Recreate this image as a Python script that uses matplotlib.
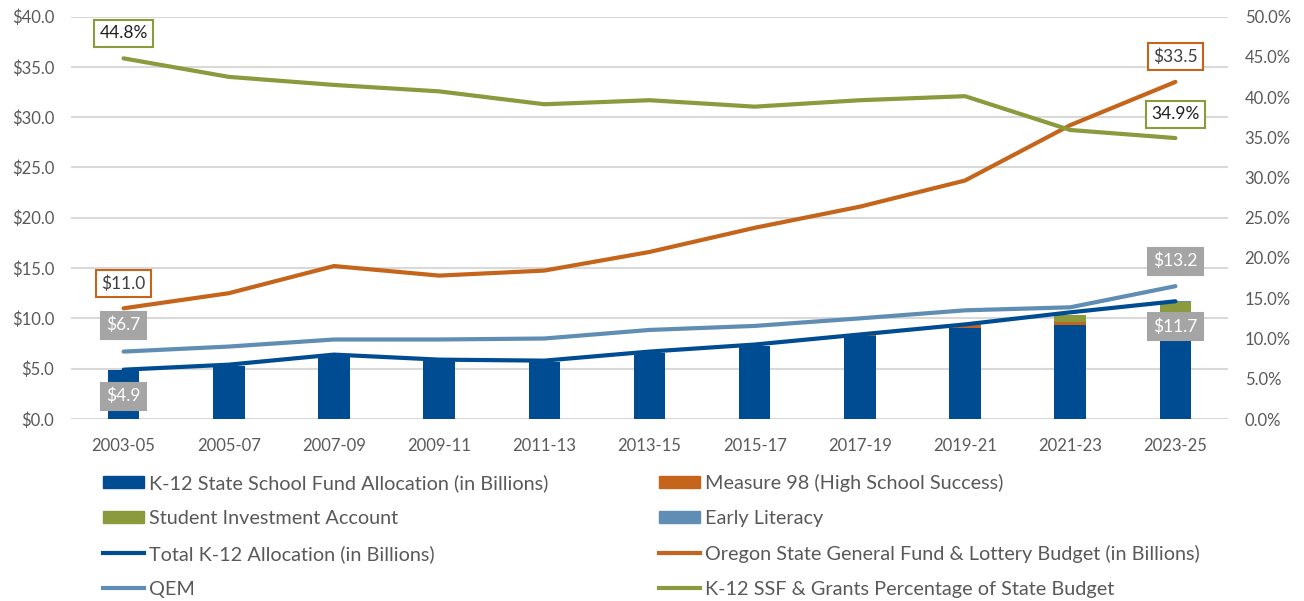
import matplotlib
matplotlib.use("Agg")
import matplotlib.pyplot as plt
import numpy as np
from matplotlib.patches import Patch
from matplotlib.lines import Line2D

periods = ["2003-05", "2005-07", "2007-09", "2009-11", "2011-13", "2013-15",
           "2015-17", "2017-19", "2019-21", "2021-23", "2023-25"]
ssf = [4.9, 5.3, 6.3, 5.8, 5.7, 6.6, 7.3, 8.2, 9.0, 9.3, 10.2]
measure98 = [0, 0, 0, 0, 0, 0, 0, 0.15, 0.3, 0.3, 0.3]
sia = [0, 0, 0, 0, 0, 0, 0, 0, 0.15, 0.7, 1.1]
early_lit = [0, 0, 0, 0, 0, 0, 0, 0, 0, 0, 0.1]
total_k12 = [4.9, 5.4, 6.4, 5.9, 5.8, 6.7, 7.4, 8.4, 9.4, 10.6, 11.7]
state_budget = [11.0, 12.5, 15.2, 14.25, 14.75, 16.6, 19.0, 21.1, 23.7, 29.2, 33.5]
qem = [6.7, 7.2, 7.9, 7.9, 8.0, 8.85, 9.25, 10.0, 10.8, 11.1, 13.2]
pct_budget = [44.8, 42.5, 41.5, 40.7, 39.1, 39.6, 38.8, 39.6, 40.1, 35.9, 34.9]

C_BLUE = "#004C93"
C_ORANGE = "#C5651B"
C_OLIVE = "#8A9A3D"
C_LBLUE = "#5F8DB4"
C_GRID = "#D9D9D9"
C_TXT = "#595959"

fig = plt.figure(figsize=(13.04, 6.01), dpi=100)
ax = fig.add_axes([71/1304, 1-419/601, (1228-71)/1304, (419-16.5)/601])
ax2 = ax.twinx()

x = np.arange(len(periods))
w = 0.30
b1 = np.array(ssf)
b2 = b1 + np.array(measure98)
b3 = b2 + np.array(sia)
ax.bar(x, ssf, w, color=C_BLUE, zorder=2)
ax.bar(x, measure98, w, bottom=b1, color=C_ORANGE, zorder=2)
ax.bar(x, sia, w, bottom=b2, color=C_OLIVE, zorder=2)
ax.bar(x, early_lit, w, bottom=b3, color=C_LBLUE, zorder=2)

ax.plot(x, total_k12, color=C_BLUE, lw=3.0, zorder=4, solid_capstyle="round")
ax.plot(x, state_budget, color=C_ORANGE, lw=3.0, zorder=4, solid_capstyle="round")
ax.plot(x, qem, color=C_LBLUE, lw=3.0, zorder=3, solid_capstyle="round")
ax2.plot(x, pct_budget, color=C_OLIVE, lw=3.0, zorder=4, solid_capstyle="round")

ax.set_xlim(-0.5, len(periods) - 0.5)
ax.set_ylim(0, 40)
ax2.set_ylim(0, 50)
ax.set_yticks(np.arange(0, 41, 5))
ax.set_yticklabels([f"${v:.1f}" for v in np.arange(0, 41, 5)])
ax2.set_yticks(np.arange(0, 51, 5))
ax2.set_yticklabels([f"{v:.1f}%" for v in np.arange(0, 51, 5)])
ax.set_xticks(x)
ax.set_xticklabels(periods)

for a in (ax, ax2):
    for s in a.spines.values():
        s.set_visible(False)
    a.tick_params(length=0, colors=C_TXT, labelsize=12)
    for lab in a.get_xticklabels() + a.get_yticklabels():
        lab.set_fontfamily("Lato")
ax.tick_params(axis="y", pad=12)
ax2.tick_params(axis="y", pad=12)
ax.tick_params(axis="x", pad=14)
ax.grid(axis="y", color=C_GRID, lw=1.5, zorder=0)
ax.set_axisbelow(True)
ax2.patch.set_visible(False)

def box_label(a, xi, yi, txt, dy, edge, face, tcolor):
    a.annotate(txt, (xi, yi), xytext=(0, dy), textcoords="offset points",
               ha="center", va="center", fontsize=12.5, family="Lato",
               color=tcolor, zorder=6,
               bbox=dict(boxstyle="square,pad=0.3", fc=face, ec=edge, lw=1.5))

last = len(periods) - 1
box_label(ax, 0, state_budget[0], f"${state_budget[0]:.1f}", 18, C_ORANGE, "white", "#404040")
box_label(ax, last, state_budget[last], f"${state_budget[last]:.1f}", 18, C_ORANGE, "white", "#404040")
box_label(ax2, 0, pct_budget[0], f"{pct_budget[0]:.1f}%", 18, C_OLIVE, "white", "#202020")
box_label(ax2, last, pct_budget[last], f"{pct_budget[last]:.1f}%", 17, C_OLIVE, "white", "#202020")
box_label(ax, 0, qem[0], f"${qem[0]:.1f}", 19, "#A5A5A5", "#A5A5A5", "white")
box_label(ax, last, qem[last], f"${qem[last]:.1f}", 18, "#A5A5A5", "#A5A5A5", "white")
box_label(ax, 0, total_k12[0], f"${total_k12[0]:.1f}", -19, "#A5A5A5", "#A5A5A5", "white")
box_label(ax, last, total_k12[last], f"${total_k12[last]:.1f}", -18, "#A5A5A5", "#A5A5A5", "white")

handles = [
    Patch(color=C_BLUE, label="K-12 State School Fund Allocation (in Billions)"),
    Patch(color=C_OLIVE, label="Student Investment Account"),
    Line2D([], [], color=C_BLUE, lw=3, label="Total K-12 Allocation (in Billions)"),
    Line2D([], [], color=C_LBLUE, lw=3, label="QEM"),
    Patch(color=C_ORANGE, label="Measure 98 (High School Success)"),
    Patch(color=C_LBLUE, label="Early Literacy"),
    Line2D([], [], color=C_ORANGE, lw=3, label="Oregon State General Fund & Lottery Budget (in Billions)"),
    Line2D([], [], color=C_OLIVE, lw=3, label="K-12 SSF & Grants Percentage of State Budget"),
]
leg = fig.legend(handles=handles, ncol=2, loc="upper left",
                 bbox_to_anchor=(103/1304, 1-474/601), frameon=False,
                 prop={"family": "Lato", "size": 14.3}, labelcolor=C_TXT,
                 handlelength=2.05, handleheight=0.55, handletextpad=0.28,
                 columnspacing=5.55, labelspacing=0.9, borderaxespad=0,
                 borderpad=0)

fig.savefig("out.png", dpi=100, facecolor="white")
